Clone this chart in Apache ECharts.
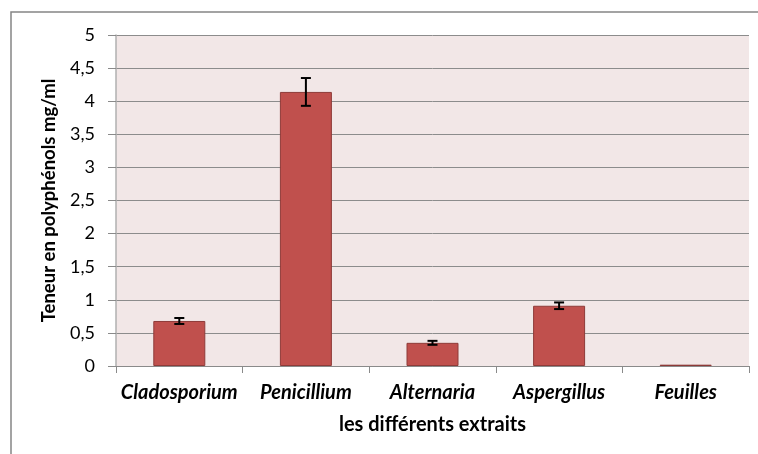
<!DOCTYPE html>
<html><head><meta charset="utf-8">
<script src="https://cdn.jsdelivr.net/npm/echarts@6/dist/echarts.min.js"></script>
<style>html,body{margin:0;padding:0;background:#fff}#c{width:758px;height:454px}</style>
</head><body><div id="c"></div>
<script>
const categories = ['Cladosporium', 'Penicillium', 'Alternaria', 'Aspergillus', 'Feuilles'];
const values = [0.68, 4.14, 0.35, 0.91, 0.02];
const errors = [0.045, 0.21, 0.03, 0.05, 0];
const yTicks = ['0', '0,5', '1', '1,5', '2', '2,5', '3', '3,5', '4', '4,5', '5'];

const font = 'Lato, "Open Sans", sans-serif';
const chart = echarts.init(document.getElementById('c'), null, {renderer: 'canvas'});
chart.setOption({
  animation: false,
  graphic: [{type: 'rect', shape: {x: 11, y: 12, width: 900, height: 600}, style: {fill: 'none', stroke: '#858585', lineWidth: 1.5}, z: 100}],
  grid: {left: 116, right: 9, top: 35, bottom: 88, show: true, backgroundColor: '#F2E7E7', borderWidth: 0},
  xAxis: {
    type: 'category', data: categories,
    name: 'les différents extraits', nameLocation: 'middle', nameGap: 49,
    nameTextStyle: {fontFamily: font, fontSize: 20, fontWeight: 'bold', color: '#000'},
    axisLine: {lineStyle: {color: '#8a8a8a', width: 1}},
    axisTick: {show: true, length: 7, lineStyle: {color: '#8a8a8a'}},
    axisLabel: {interval: 0, hideOverlap: false, fontFamily: font, fontSize: 20, fontWeight: 'bold', fontStyle: 'italic', color: '#000', margin: 17}
  },
  yAxis: {
    type: 'value', min: 0, max: 5, interval: 0.5,
    name: 'Teneur en polyphénols mg/ml', nameLocation: 'middle', nameGap: 57,
    nameTextStyle: {fontFamily: font, fontSize: 18.5, fontWeight: 'bold', color: '#000'},
    axisLine: {show: true, lineStyle: {color: '#b0b0b0', width: 1.5}},
    axisTick: {show: true, length: 8, lineStyle: {color: '#8a8a8a'}},
    splitLine: {lineStyle: {color: '#8c8c8c', width: 1}},
    axisLabel: {fontFamily: font, fontSize: 18, color: '#000', margin: 21,
      formatter: function (v) { return yTicks[Math.round(v * 2)]; }}
  },
  series: [{
    type: 'bar', data: values, barWidth: 52,
    itemStyle: {color: '#C0504D', borderColor: '#8E3B39', borderWidth: 1}
  }, {
    type: 'custom', z: 10,
    data: values.map((v, i) => [i, v, errors[i]]),
    renderItem: function (params, api) {
      const i = api.value(0), v = api.value(1), e = api.value(2);
      if (!e) return null;
      const top = api.coord([i, v + e]);
      const bot = api.coord([i, v - e]);
      const hw = 5;
      const st = {stroke: '#000', lineWidth: 2};
      return {type: 'group', children: [
        {type: 'line', shape: {x1: top[0], y1: top[1], x2: bot[0], y2: bot[1]}, style: st},
        {type: 'line', shape: {x1: top[0] - hw, y1: top[1], x2: top[0] + hw, y2: top[1]}, style: st},
        {type: 'line', shape: {x1: bot[0] - hw, y1: bot[1], x2: bot[0] + hw, y2: bot[1]}, style: st}
      ]};
    }
  }]
});
</script></body></html>
